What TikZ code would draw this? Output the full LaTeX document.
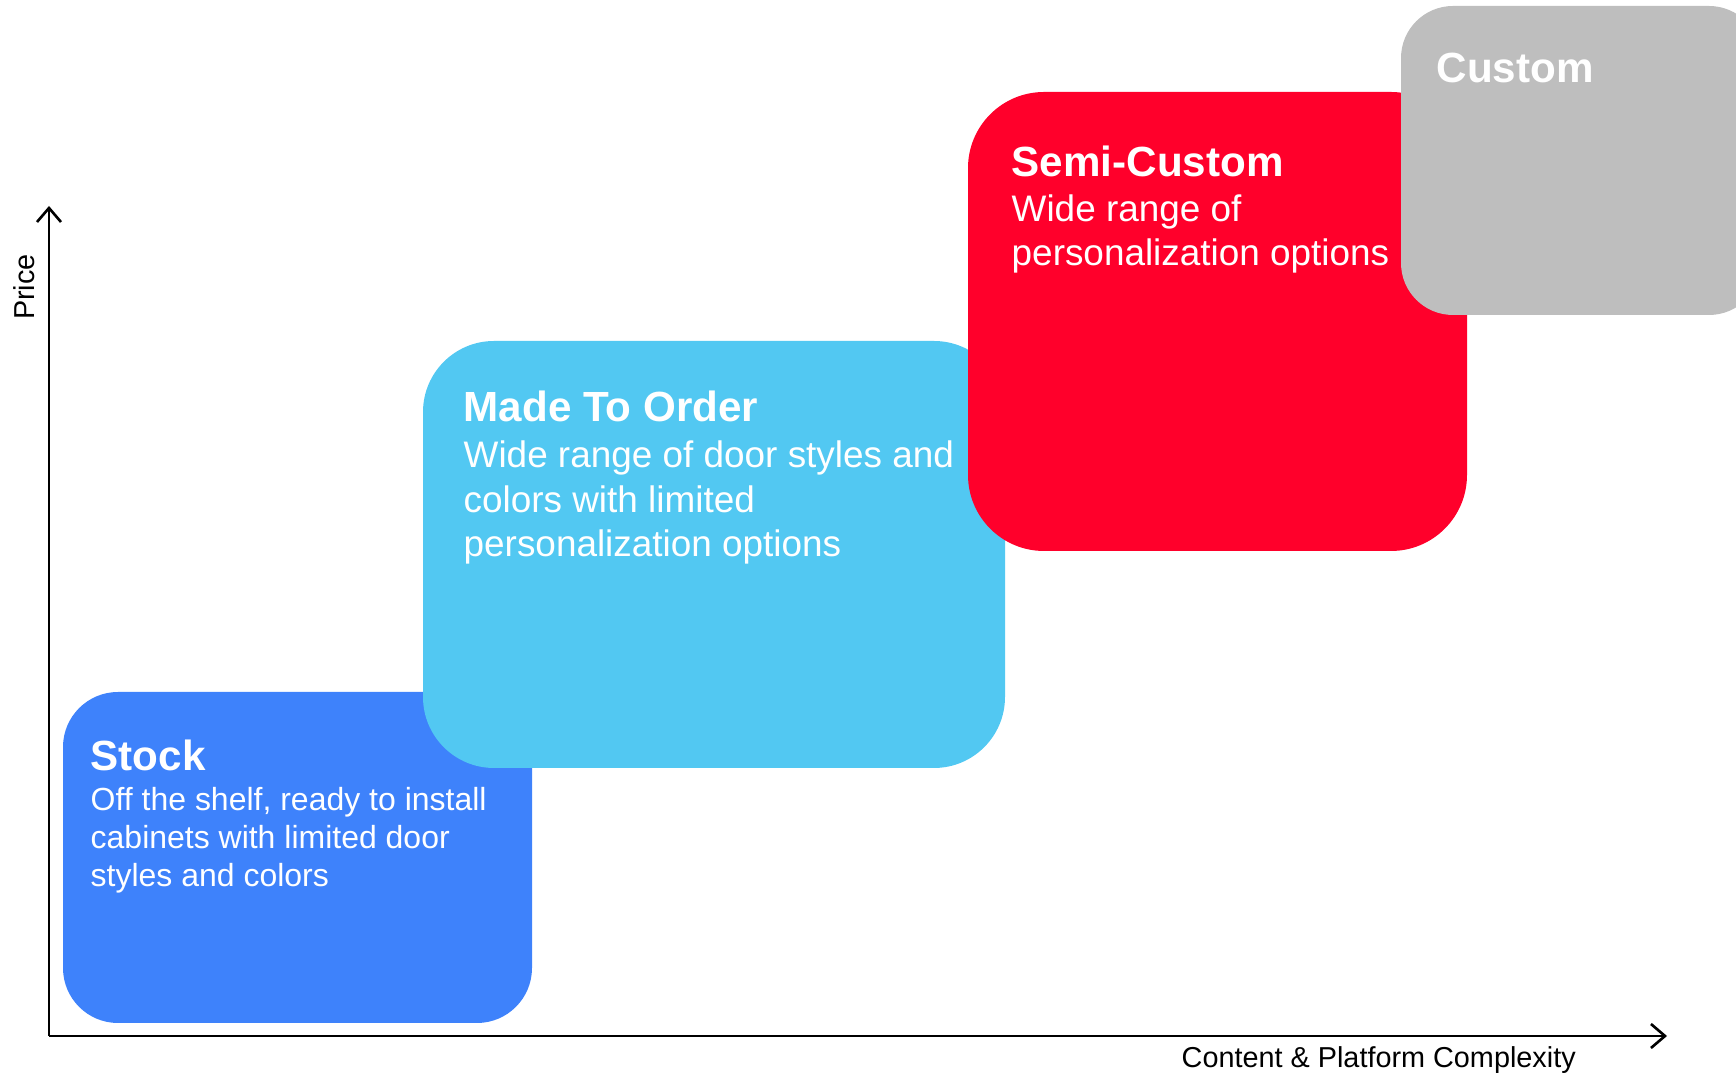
\documentclass[tikz,border=0pt]{standalone}
\usepackage{fontspec}
\setmainfont{Liberation Sans}
\usetikzlibrary{arrows.meta}
\definecolor{stockblue}{HTML}{3E82FB}
\definecolor{orderblue}{HTML}{52C8F2}
\definecolor{semired}{HTML}{FF002B}
\definecolor{customgray}{HTML}{BEBEBE}

\begin{document}
\begin{tikzpicture}[x=0.1mm,y=-0.1mm,
    tier/.style={anchor=north west,inner sep=0pt,outer sep=0pt},
    tiertitle/.style={anchor=base west,inner sep=0pt,text=white,
      font=\fontsize{12}{14}\selectfont\bfseries},
    % base of a multi-line node sits on its last line
    tierbody/.style={anchor=base west,inner sep=0pt,text=white,align=left,
      font=\fontsize{10.5}{12.8}\selectfont},
    axis/.style={line width=0.75pt,-{Straight Barb[length=1.4mm,width=2.4mm]}},
    axislabel/.style={inner sep=0pt,font=\fontsize{8.2}{10}\selectfont}]
  \useasboundingbox (0,0) rectangle (1736,1074);
  \clip (0,0) rectangle (1736,1074);

  % axes
  \coordinate (origin) at (49,1036);
  \coordinate (ytop) at (49,206);
  \coordinate (xend) at (1667,1036);
  \draw[axis] (origin) -- (ytop);
  \draw[axis] (origin) -- (xend);
  \node[axislabel,rotate=90] (price) at (24,287) {Price};
  \node[axislabel,anchor=base west] (complexity) at (1181,1068)
    {Content \& Platform Complexity};

  % the four tiers, cheapest first
  \node[tier,fill=stockblue,minimum width=46.9mm,minimum height=33.1mm,
    rounded corners=5.5mm] (stock) at (63,692) {};
  \node[tiertitle] (stocktitle) at (90,771) {Stock};
  \node[tierbody,font=\fontsize{9.1}{10.95}\selectfont] (stocktext) at (90,887)
    {Off the shelf, ready to install\\cabinets with limited door\\styles and colors};

  \node[tier,fill=orderblue,minimum width=58.2mm,minimum height=42.7mm,
    rounded corners=7.1mm] (order) at (423,341) {};
  \node[tiertitle] (ordertitle) at (463,422) {Made To Order};
  \node[tierbody] (ordertext) at (463,557)
    {Wide range of door styles and\\colors with limited\\personalization options};

  \node[tier,fill=semired,minimum width=49.9mm,minimum height=45.9mm,
    rounded corners=7.6mm] (semi) at (968,92) {};
  \node[tiertitle] (semititle) at (1011,177) {Semi-Custom};
  \node[tierbody] (semitext) at (1011,266)
    {Wide range of\\personalization options};

  \node[tier,fill=customgray,minimum width=36mm,minimum height=30.9mm,
    rounded corners=5.2mm] (custom) at (1401,6) {};
  \node[tiertitle] (customtitle) at (1436,83) {Custom};
\end{tikzpicture}
\end{document}
